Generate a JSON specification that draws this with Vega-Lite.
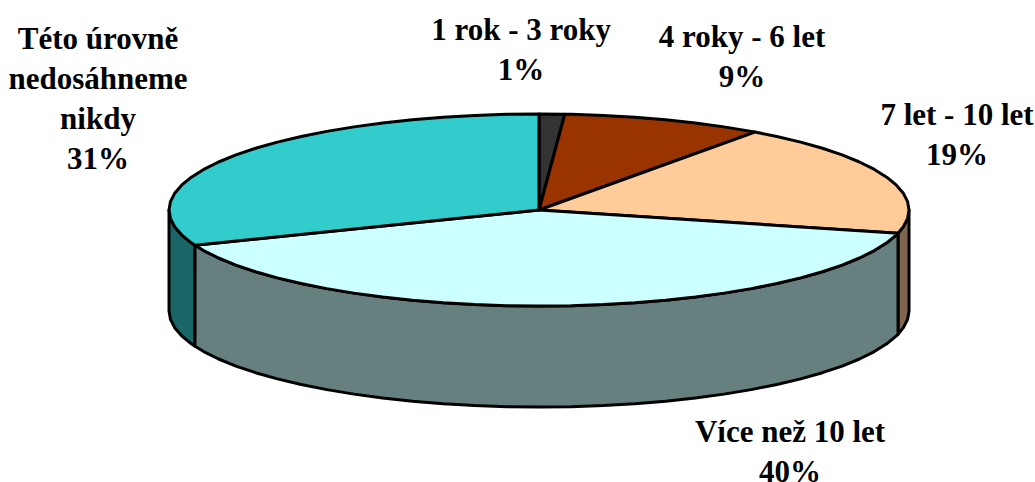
{"$schema":"https://vega.github.io/schema/vega-lite/v6.json","width":1035,"height":482,"padding":0,"autosize":{"type":"none"},"background":"white","view":{"stroke":null},
"config":{"axis":{"domain":false}},
"encoding":{"x":{"field":"u","type":"quantitative","axis":null,"scale":{"domain":[-1.4568,1.3405],"nice":false,"zero":false}},"y":{"field":"v","type":"quantitative","axis":null,"scale":{"domain":[-2.8333,2.1875],"nice":false,"zero":false}}},
"layer":[
{"data":{"values":[
{"part":"7 let side","i":1,"u":1,"v":0},{"part":"7 let side","i":2,"u":0.9962,"v":-0.0872},{"part":"7 let side","i":3,"u":0.9848,"v":-0.1736},{"part":"7 let side","i":4,"u":0.9703,"v":-0.2419},{"part":"7 let side","i":5,"u":0.9703,"v":-1.2939},{"part":"7 let side","i":6,"u":0.9848,"v":-1.2256},{"part":"7 let side","i":7,"u":0.9962,"v":-1.1392},{"part":"7 let side","i":8,"u":1,"v":-1.052},
{"part":"Této side","i":1,"u":-1,"v":0},{"part":"Této side","i":2,"u":-0.9962,"v":-0.0872},{"part":"Této side","i":3,"u":-0.9848,"v":-0.1736},{"part":"Této side","i":4,"u":-0.9659,"v":-0.2588},{"part":"Této side","i":5,"u":-0.9397,"v":-0.342},{"part":"Této side","i":6,"u":-0.9298,"v":-0.3681},{"part":"Této side","i":7,"u":-0.9298,"v":-1.4201},{"part":"Této side","i":8,"u":-0.9397,"v":-1.394},{"part":"Této side","i":9,"u":-0.9659,"v":-1.3108},{"part":"Této side","i":10,"u":-0.9848,"v":-1.2256},{"part":"Této side","i":11,"u":-0.9962,"v":-1.1392},{"part":"Této side","i":12,"u":-1,"v":-1.052},
{"part":"Více side","i":1,"u":0.9703,"v":-0.2419},{"part":"Více side","i":2,"u":0.9659,"v":-0.2588},{"part":"Více side","i":3,"u":0.9397,"v":-0.342},{"part":"Více side","i":4,"u":0.9063,"v":-0.4226},{"part":"Více side","i":5,"u":0.866,"v":-0.5},{"part":"Více side","i":6,"u":0.8192,"v":-0.5736},{"part":"Více side","i":7,"u":0.766,"v":-0.6428},{"part":"Více side","i":8,"u":0.7071,"v":-0.7071},{"part":"Více side","i":9,"u":0.6428,"v":-0.766},{"part":"Více side","i":10,"u":0.5736,"v":-0.8192},{"part":"Více side","i":11,"u":0.5,"v":-0.866},{"part":"Více side","i":12,"u":0.4226,"v":-0.9063},{"part":"Více side","i":13,"u":0.342,"v":-0.9397},{"part":"Více side","i":14,"u":0.2588,"v":-0.9659},{"part":"Více side","i":15,"u":0.1736,"v":-0.9848},{"part":"Více side","i":16,"u":0.0872,"v":-0.9962},{"part":"Více side","i":17,"u":0,"v":-1},{"part":"Více side","i":18,"u":-0.0872,"v":-0.9962},{"part":"Více side","i":19,"u":-0.1736,"v":-0.9848},{"part":"Více side","i":20,"u":-0.2588,"v":-0.9659},{"part":"Více side","i":21,"u":-0.342,"v":-0.9397},{"part":"Více side","i":22,"u":-0.4226,"v":-0.9063},{"part":"Více side","i":23,"u":-0.5,"v":-0.866},{"part":"Více side","i":24,"u":-0.5736,"v":-0.8192},{"part":"Více side","i":25,"u":-0.6428,"v":-0.766},{"part":"Více side","i":26,"u":-0.7071,"v":-0.7071},{"part":"Více side","i":27,"u":-0.766,"v":-0.6428},{"part":"Více side","i":28,"u":-0.8192,"v":-0.5736},{"part":"Více side","i":29,"u":-0.866,"v":-0.5},{"part":"Více side","i":30,"u":-0.9063,"v":-0.4226},{"part":"Více side","i":31,"u":-0.9298,"v":-0.3681},{"part":"Více side","i":32,"u":-0.9298,"v":-1.4201},{"part":"Více side","i":33,"u":-0.9063,"v":-1.4746},{"part":"Více side","i":34,"u":-0.866,"v":-1.552},{"part":"Více side","i":35,"u":-0.8192,"v":-1.6256},{"part":"Více side","i":36,"u":-0.766,"v":-1.6948},{"part":"Více side","i":37,"u":-0.7071,"v":-1.7591},{"part":"Více side","i":38,"u":-0.6428,"v":-1.818},{"part":"Více side","i":39,"u":-0.5736,"v":-1.8712},{"part":"Více side","i":40,"u":-0.5,"v":-1.918},{"part":"Více side","i":41,"u":-0.4226,"v":-1.9583},{"part":"Více side","i":42,"u":-0.342,"v":-1.9917},{"part":"Více side","i":43,"u":-0.2588,"v":-2.0179},{"part":"Více side","i":44,"u":-0.1736,"v":-2.0368},{"part":"Více side","i":45,"u":-0.0872,"v":-2.0482},{"part":"Více side","i":46,"u":0,"v":-2.052},{"part":"Více side","i":47,"u":0.0872,"v":-2.0482},{"part":"Více side","i":48,"u":0.1736,"v":-2.0368},{"part":"Více side","i":49,"u":0.2588,"v":-2.0179},{"part":"Více side","i":50,"u":0.342,"v":-1.9917},{"part":"Více side","i":51,"u":0.4226,"v":-1.9583},{"part":"Více side","i":52,"u":0.5,"v":-1.918},{"part":"Více side","i":53,"u":0.5736,"v":-1.8712},{"part":"Více side","i":54,"u":0.6428,"v":-1.818},{"part":"Více side","i":55,"u":0.7071,"v":-1.7591},{"part":"Více side","i":56,"u":0.766,"v":-1.6948},{"part":"Více side","i":57,"u":0.8192,"v":-1.6256},{"part":"Více side","i":58,"u":0.866,"v":-1.552},{"part":"Více side","i":59,"u":0.9063,"v":-1.4746},{"part":"Více side","i":60,"u":0.9397,"v":-1.394},{"part":"Více side","i":61,"u":0.9659,"v":-1.3108},{"part":"Více side","i":62,"u":0.9703,"v":-1.2939},
{"part":"1 rok","i":1,"u":0,"v":0},{"part":"1 rok","i":2,"u":0,"v":1},{"part":"1 rok","i":3,"u":0.0698,"v":0.9976},
{"part":"4 roky","i":1,"u":0,"v":0},{"part":"4 roky","i":2,"u":0.0698,"v":0.9976},{"part":"4 roky","i":3,"u":0.0872,"v":0.9962},{"part":"4 roky","i":4,"u":0.1736,"v":0.9848},{"part":"4 roky","i":5,"u":0.2588,"v":0.9659},{"part":"4 roky","i":6,"u":0.342,"v":0.9397},{"part":"4 roky","i":7,"u":0.4226,"v":0.9063},{"part":"4 roky","i":8,"u":0.5,"v":0.866},{"part":"4 roky","i":9,"u":0.5736,"v":0.8192},{"part":"4 roky","i":10,"u":0.5835,"v":0.8121},
{"part":"7 let","i":1,"u":0,"v":0},{"part":"7 let","i":2,"u":0.5835,"v":0.8121},{"part":"7 let","i":3,"u":0.6428,"v":0.766},{"part":"7 let","i":4,"u":0.7071,"v":0.7071},{"part":"7 let","i":5,"u":0.766,"v":0.6428},{"part":"7 let","i":6,"u":0.8192,"v":0.5736},{"part":"7 let","i":7,"u":0.866,"v":0.5},{"part":"7 let","i":8,"u":0.9063,"v":0.4226},{"part":"7 let","i":9,"u":0.9397,"v":0.342},{"part":"7 let","i":10,"u":0.9659,"v":0.2588},{"part":"7 let","i":11,"u":0.9848,"v":0.1736},{"part":"7 let","i":12,"u":0.9962,"v":0.0872},{"part":"7 let","i":13,"u":1,"v":0},{"part":"7 let","i":14,"u":0.9962,"v":-0.0872},{"part":"7 let","i":15,"u":0.9848,"v":-0.1736},{"part":"7 let","i":16,"u":0.9703,"v":-0.2419},
{"part":"Více","i":1,"u":0,"v":0},{"part":"Více","i":2,"u":0.9703,"v":-0.2419},{"part":"Více","i":3,"u":0.9659,"v":-0.2588},{"part":"Více","i":4,"u":0.9397,"v":-0.342},{"part":"Více","i":5,"u":0.9063,"v":-0.4226},{"part":"Více","i":6,"u":0.866,"v":-0.5},{"part":"Více","i":7,"u":0.8192,"v":-0.5736},{"part":"Více","i":8,"u":0.766,"v":-0.6428},{"part":"Více","i":9,"u":0.7071,"v":-0.7071},{"part":"Více","i":10,"u":0.6428,"v":-0.766},{"part":"Více","i":11,"u":0.5736,"v":-0.8192},{"part":"Více","i":12,"u":0.5,"v":-0.866},{"part":"Více","i":13,"u":0.4226,"v":-0.9063},{"part":"Více","i":14,"u":0.342,"v":-0.9397},{"part":"Více","i":15,"u":0.2588,"v":-0.9659},{"part":"Více","i":16,"u":0.1736,"v":-0.9848},{"part":"Více","i":17,"u":0.0872,"v":-0.9962},{"part":"Více","i":18,"u":0,"v":-1},{"part":"Více","i":19,"u":-0.0872,"v":-0.9962},{"part":"Více","i":20,"u":-0.1736,"v":-0.9848},{"part":"Více","i":21,"u":-0.2588,"v":-0.9659},{"part":"Více","i":22,"u":-0.342,"v":-0.9397},{"part":"Více","i":23,"u":-0.4226,"v":-0.9063},{"part":"Více","i":24,"u":-0.5,"v":-0.866},{"part":"Více","i":25,"u":-0.5736,"v":-0.8192},{"part":"Více","i":26,"u":-0.6428,"v":-0.766},{"part":"Více","i":27,"u":-0.7071,"v":-0.7071},{"part":"Více","i":28,"u":-0.766,"v":-0.6428},{"part":"Více","i":29,"u":-0.8192,"v":-0.5736},{"part":"Více","i":30,"u":-0.866,"v":-0.5},{"part":"Více","i":31,"u":-0.9063,"v":-0.4226},{"part":"Více","i":32,"u":-0.9298,"v":-0.3681},
{"part":"Této","i":1,"u":0,"v":0},{"part":"Této","i":2,"u":-0.9298,"v":-0.3681},{"part":"Této","i":3,"u":-0.9397,"v":-0.342},{"part":"Této","i":4,"u":-0.9659,"v":-0.2588},{"part":"Této","i":5,"u":-0.9848,"v":-0.1736},{"part":"Této","i":6,"u":-0.9962,"v":-0.0872},{"part":"Této","i":7,"u":-1,"v":0},{"part":"Této","i":8,"u":-0.9962,"v":0.0872},{"part":"Této","i":9,"u":-0.9848,"v":0.1736},{"part":"Této","i":10,"u":-0.9659,"v":0.2588},{"part":"Této","i":11,"u":-0.9397,"v":0.342},{"part":"Této","i":12,"u":-0.9063,"v":0.4226},{"part":"Této","i":13,"u":-0.866,"v":0.5},{"part":"Této","i":14,"u":-0.8192,"v":0.5736},{"part":"Této","i":15,"u":-0.766,"v":0.6428},{"part":"Této","i":16,"u":-0.7071,"v":0.7071},{"part":"Této","i":17,"u":-0.6428,"v":0.766},{"part":"Této","i":18,"u":-0.5736,"v":0.8192},{"part":"Této","i":19,"u":-0.5,"v":0.866},{"part":"Této","i":20,"u":-0.4226,"v":0.9063},{"part":"Této","i":21,"u":-0.342,"v":0.9397},{"part":"Této","i":22,"u":-0.2588,"v":0.9659},{"part":"Této","i":23,"u":-0.1736,"v":0.9848},{"part":"Této","i":24,"u":-0.0872,"v":0.9962},{"part":"Této","i":25,"u":0,"v":1}
]},
"mark":{"type":"line","filled":true,"interpolate":"linear-closed","stroke":"black","strokeWidth":3,"strokeJoin":"round","clip":false},
"encoding":{"order":{"field":"i","type":"quantitative"},"color":{"field":"part","type":"nominal","legend":null,"scale":{"domain":["7 let side","Této side","Více side","1 rok","4 roky","7 let","Více","Této"],"range":["#806650","#1A6666","#667F7F","#333333","#993300","#FFCC99","#CCFFFF","#33CCCC"]}}}},
{"data":{"values":[
{"label":"1 rok - 3 roky\n1%","share":1,"u":-0.0486,"v":1.8646},
{"label":"4 roky - 6 let\n9%","share":9,"u":0.5486,"v":1.7917},
{"label":"7 let - 10 let\n19%","share":19,"u":1.1297,"v":0.9792},
{"label":"Více než 10 let\n40%","share":40,"u":0.6784,"v":-2.3229},
{"label":"Této úrovně\nnedosáhneme\nnikdy\n31%","share":31,"u":-1.1919,"v":1.7708}
]},
"mark":{"type":"text","font":"Liberation Serif","fontWeight":"bold","fontSize":31,"lineBreak":"\n","lineHeight":40,"align":"center","baseline":"middle","color":"black"},
"encoding":{"text":{"field":"label","type":"nominal"}}}
]}
